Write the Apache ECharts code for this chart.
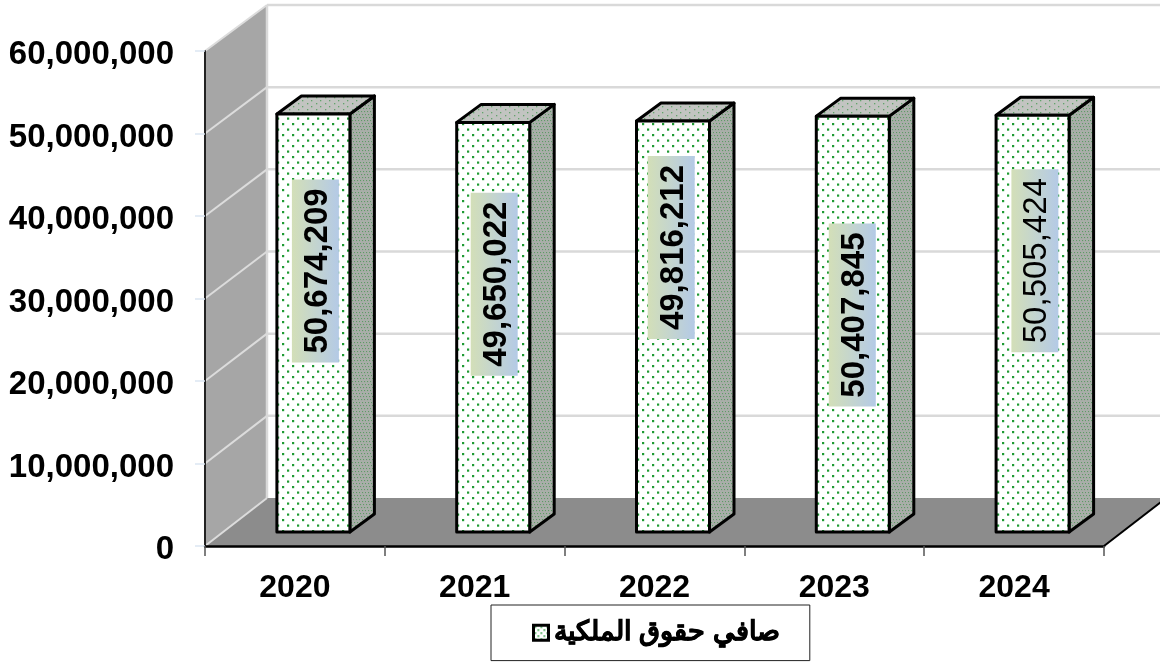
<!DOCTYPE html>
<html><head><meta charset="utf-8">
<style>html,body{margin:0;padding:0;background:#fff}#c{width:1160px;height:662px}</style>
<script src="https://cdn.jsdelivr.net/npm/echarts@6/dist/echarts.min.js"></script>
</head><body><div id="c"></div>
<script>
const categories = ['2020','2021','2022','2023','2024'];
const equity = [50674209,49650022,49816212,50407845,50505424];
const seriesName = 'صافي حقوق الملكية';
const labelWeights = ['bold','bold','bold','bold','normal'];
const labelLift = [52,43,79,9,63];
const labelShift = [2,1,-1.8,-0.5,2.3];
const yTicks = [0,10000000,20000000,30000000,40000000,50000000,60000000];

const FONT = '"Liberation Sans", Arial, sans-serif';
function tile(w,h,bg,dots,color,size){
  const c=document.createElement('canvas');c.width=w;c.height=h;
  const g=c.getContext('2d');g.fillStyle=bg;g.fillRect(0,0,w,h);g.fillStyle=color;
  dots.forEach(d=>g.fillRect(d[0],d[1],size,size));
  return c;
}
const frontTile=tile(10,11,'#ffffff',[[2,2],[7,7.5]],'#1f9a33',2.2);
const front={image:frontTile,repeat:'repeat'};
const sideTile=tile(6,9,'#a9aea9',[[0,0],[1,3],[2,6],[3,0],[4,3],[5,6]],'#5f9a66',1.1);
const side={image:sideTile,repeat:'repeat'};
const topTile=tile(9,6,'#c2c4c1',[[1,1],[5,4]],'#62a36b',1.3);
const top_={image:topTile,repeat:'repeat'};
const legendTile=tile(6,6,'#ffffff',[[1,1],[4,4]],'#1f9a33',1.6);

const DX=62;
function renderEnv(params,api){
  const cs=params.coordSys, L=cs.x, R=cs.x+cs.width;
  const a=(v)=>{const p=api.coord([0,v]);return [L,p[1]];};
  const b=(v)=>{const p=a(v);return [p[0]+DX,p[1]-46-2*(1-v/60000000)];};
  const kids=[];
  const grid='#d9d9d9';
  kids.push({type:'polygon',shape:{points:[a(0),a(60000000),b(60000000),b(0)]},style:{fill:'#a6a6a6'}});
  const f0=a(0),fb=b(0);
  kids.push({type:'polygon',shape:{points:[f0,[R,f0[1]],[R+DX,fb[1]],fb]},style:{fill:'#8c8c8c'}});
  yTicks.forEach(v=>{
    const p=a(v),q=b(v);
    kids.push({type:'line',shape:{x1:p[0],y1:p[1],x2:q[0],y2:q[1]},style:{stroke:'#dcdcdc',lineWidth:2}});
    if(v>0) kids.push({type:'line',shape:{x1:q[0],y1:q[1],x2:R+DX+20,y2:q[1]},style:{stroke:grid,lineWidth:2.5}});
  });
  const t=b(60000000),u=b(0);
  kids.push({type:'line',shape:{x1:t[0],y1:t[1],x2:u[0],y2:u[1]},style:{stroke:grid,lineWidth:2.5}});
  kids.push({type:'line',shape:{x1:R,y1:f0[1],x2:R+DX,y2:fb[1]},style:{stroke:'#000',lineWidth:2}});
  return {type:'group',children:kids};
}
function renderBar(params,api){
  const i=params.dataIndex, val=api.value(1);
  const c=api.coord([api.value(0),val]), base=api.coord([api.value(0),0]);
  const w=api.size([1,0])[0]*0.406;
  const cx=c[0]+18.5, l=cx-w/2, r=cx+w/2, t=c[1]-14, bot=base[1]-14;
  const dx=24.5, dy=18;
  const k={lineWidth:3,stroke:'#000',lineJoin:'round'};
  const mid=(t+bot)/2-labelLift[i];
  const lx=cx+labelShift[i], boxW=47, boxH=183;
  return {type:'group',children:[
    {type:'polygon',shape:{points:[[r,t],[r+dx,t-dy],[r+dx,bot-dy],[r,bot]]},style:Object.assign({fill:side},k)},
    {type:'polygon',shape:{points:[[l,t],[l+dx,t-dy],[r+dx,t-dy],[r,t]]},style:Object.assign({fill:top_},k)},
    {type:'rect',shape:{x:l,y:t,width:r-l,height:bot-t},style:Object.assign({fill:front},k)},
    {type:'rect',shape:{x:lx-boxW/2,y:mid-boxH/2,width:boxW,height:boxH},style:{fill:{type:'linear',x:0,y:0,x2:1,y2:0,colorStops:[{offset:0,color:'#d3dfb8'},{offset:1,color:'#b4cae6'}]}}},
    {type:'text',x:lx+2.5,y:mid,rotation:Math.PI/2,style:{text:val.toLocaleString('en-US'),font:labelWeights[i]+' 33px '+FONT,fill:'#000',align:'center',verticalAlign:'middle'}}
  ]};
}
const chart=echarts.init(document.getElementById('c'),null,{renderer:'canvas'});
chart.setOption({
  animation:false,
  backgroundColor:'#fff',
  grid:{left:205,right:56,top:51,bottom:116},
  legend:{
    data:[{name:seriesName,icon:'rect',itemStyle:{color:{image:legendTile,repeat:'repeat'},borderColor:'#000',borderWidth:3}}],
    left:491,top:605,orient:'horizontal',
    padding:[14,30,14,41],
    itemWidth:15,itemHeight:15,itemGap:7,
    backgroundColor:'#fff',borderColor:'#222',borderWidth:1,borderRadius:0,
    textStyle:{fontFamily:FONT,fontWeight:'bold',fontSize:27,lineHeight:27,color:'#000',textBorderColor:'#000',textBorderWidth:0.6},
    selectedMode:false
  },
  xAxis:{type:'category',data:categories,z:10,
    axisLine:{show:true,lineStyle:{color:'#000',width:2.5}},
    axisTick:{show:true,alignWithLabel:false,length:10,lineStyle:{color:'#555',width:1.5}},
    axisLabel:{margin:26,fontFamily:FONT,fontWeight:'bold',fontSize:32,color:'#000'},
    splitLine:{show:false}},
  yAxis:{type:'value',min:0,max:60000000,interval:10000000,z:10,
    axisLine:{show:true,lineStyle:{color:'#222',width:2}},
    axisTick:{show:true,length:10,lineStyle:{color:'#dce6f2',width:1.5}},
    axisLabel:{margin:31,formatter:v=>'{a|'+v.toLocaleString('en-US')+'}',
      rich:{a:{padding:[8,0,0,0],fontFamily:FONT,fontWeight:'bold',fontSize:33,color:'#000'}}},
    splitLine:{show:false}},
  series:[
    {type:'custom',name:'walls',silent:true,z:1,renderItem:renderEnv,data:[[0,0]],encode:{x:0,y:1}},
    {type:'custom',name:seriesName,z:3,renderItem:renderBar,
     data:equity.map((v,i)=>[i,v]),encode:{x:0,y:1},itemStyle:{color:'#fff'}}
  ]
});
</script></body></html>
